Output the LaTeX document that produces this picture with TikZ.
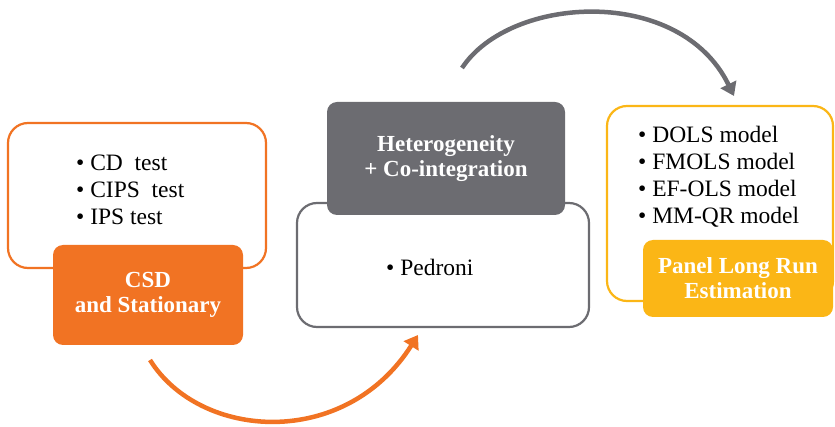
\documentclass[tikz,border=0pt]{standalone}
\usepackage{fontspec}
\setmainfont{Liberation Serif}
\usepackage{tikz}
\usetikzlibrary{arrows.meta}
\definecolor{csdorange}{RGB}{241,115,35}
\definecolor{cointgray}{RGB}{108,108,113}
\definecolor{estyellow}{RGB}{251,182,22}
\tikzstyle{outerbox} = [draw,rectangle,rounded corners=20pt,line width=2.2pt,fill=white]
\tikzstyle{titlebox} = [rectangle,rounded corners=10pt,text=white,align=center,
                        font=\bfseries\fontsize{23}{25}\selectfont]
\tikzstyle{itemlist} = [align=left,inner sep=0pt,font=\fontsize{23.5}{27}\selectfont]
\tikzstyle{connector} = [line width=4.5pt,-{Triangle[length=13pt,width=17pt]}]

\begin{document}
\begin{tikzpicture}[x=1pt,y=-1pt]
    \useasboundingbox (0,0) rectangle (835,427);
    % the three stages
    \node[outerbox,draw=csdorange,minimum width=258pt,minimum height=145pt] (csdbox) at (137,195.5) {};
    \node[titlebox,fill=csdorange,minimum width=190pt,minimum height=100pt] (csdtitle) at (148,295) {CSD\\and Stationary};
    \node[itemlist,anchor=west] (csdlist) at (76,190) {\textbullet\ CD\ \ test\\ \textbullet\ CIPS\ \ test\\ \textbullet\ IPS test};
    %
    \node[outerbox,draw=cointgray,minimum width=292pt,minimum height=124pt] (pedbox) at (443,265) {};
    \node[titlebox,fill=cointgray,minimum width=238pt,minimum height=113pt] (pedtitle) at (446,158.5) {Heterogeneity\\+ Co-integration};
    \node[itemlist,anchor=west] (pedlist) at (386,267) {\textbullet\ Pedroni};
    %
    \node[outerbox,draw=estyellow,minimum width=226pt,minimum height=195pt] (estbox) at (720,203.5) {};
    \node[titlebox,fill=estyellow,minimum width=190pt,minimum height=77pt] (esttitle) at (738,278.5) {Panel Long Run\\Estimation};
    \node[itemlist,anchor=west] (estlist) at (638,177) {\textbullet\ DOLS model\\ \textbullet\ FMOLS model\\ \textbullet\ EF-OLS model\\ \textbullet\ MM-QR model};
    % now link the stages
    \coordinate (o1) at (150,360);
    \coordinate (o2) at (418,335);
    \coordinate (g1) at (462,68);
    \coordinate (g2) at (734,96);
    \draw [connector,csdorange] (o1) .. controls (200,440) and (345,450) .. (o2);
    \draw [connector,cointgray] (g1) .. controls (510,-5) and (680,-15) .. (g2);
\end{tikzpicture}
\end{document}
